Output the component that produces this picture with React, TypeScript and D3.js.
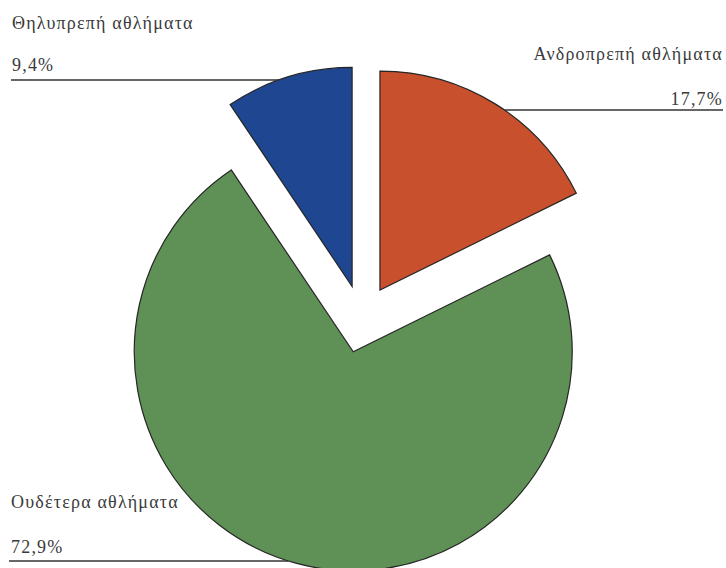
import React from "react";
import * as d3 from "d3";

const categories = ["Ανδροπρεπή αθλήματα", "Ουδέτερα αθλήματα", "Θηλυπρεπή αθλήματα"];
const values = [17.7, 72.9, 9.4];
const valueLabels = ["17,7%", "72,9%", "9,4%"];
const colors = ["#c9502d", "#5f9156", "#1f4691"];

const W = 726;
const H = 568;
const cx = 362;
const cy = 319;
const R = 219;
const explode = 34;

const labelLayout: Record<string, { x: number; y1: number; y2: number; ly: number; anchor: "start" | "end"; lx: number }> = {
  "Ανδροπρεπή αθλήματα": { x: 723, y1: 60, y2: 105, ly: 110, anchor: "end", lx: 723 },
  "Ουδέτερα αθλήματα": { x: 11, y1: 508, y2: 553, ly: 561, anchor: "start", lx: 9 },
  "Θηλυπρεπή αθλήματα": { x: 12, y1: 29, y2: 71, ly: 80, anchor: "start", lx: 11 },
};

const FONT = "Liberation Serif";

export default function App() {
  const pie = d3.pie<number>().sort(null).value((d) => d);
  const arcs = pie(values);
  const arcGen = d3.arc<d3.PieArcDatum<number>>().innerRadius(0).outerRadius(R);

  return (
    <svg width={W} height={H} style={{ position: "absolute", left: 0, top: 0, background: "#fff" }}>
      {arcs.map((a, i) => {
        const mid = (a.startAngle + a.endAngle) / 2;
        const ox = cx + explode * Math.sin(mid);
        const oy = cy - explode * Math.cos(mid);
        const lay = labelLayout[categories[i]];
        const dy = lay.ly - oy;
        const dx = Math.sqrt(Math.max(0, R * R - dy * dy));
        const arcX = lay.anchor === "end" ? ox + dx : ox - dx;
        return (
          <g key={categories[i]}>
            <path
              d={arcGen(a) || ""}
              transform={`translate(${ox},${oy})`}
              fill={colors[i]}
              stroke="#262626"
              strokeWidth={1.2}
            />
            <line x1={lay.lx} x2={arcX} y1={lay.ly} y2={lay.ly} stroke="#333" strokeWidth={1.3} />
            <text
              x={lay.x}
              y={lay.y1}
              textAnchor={lay.anchor}
              fontFamily={FONT}
              fontSize={18}
              letterSpacing={1.2}
              fill="#3a3a3a"
            >
              {categories[i]}
            </text>
            <text
              x={lay.x}
              y={lay.y2}
              textAnchor={lay.anchor}
              fontFamily={FONT}
              fontSize={18}
              letterSpacing={1.2}
              fill="#3a3a3a"
            >
              {valueLabels[i]}
            </text>
          </g>
        );
      })}
    </svg>
  );
}
